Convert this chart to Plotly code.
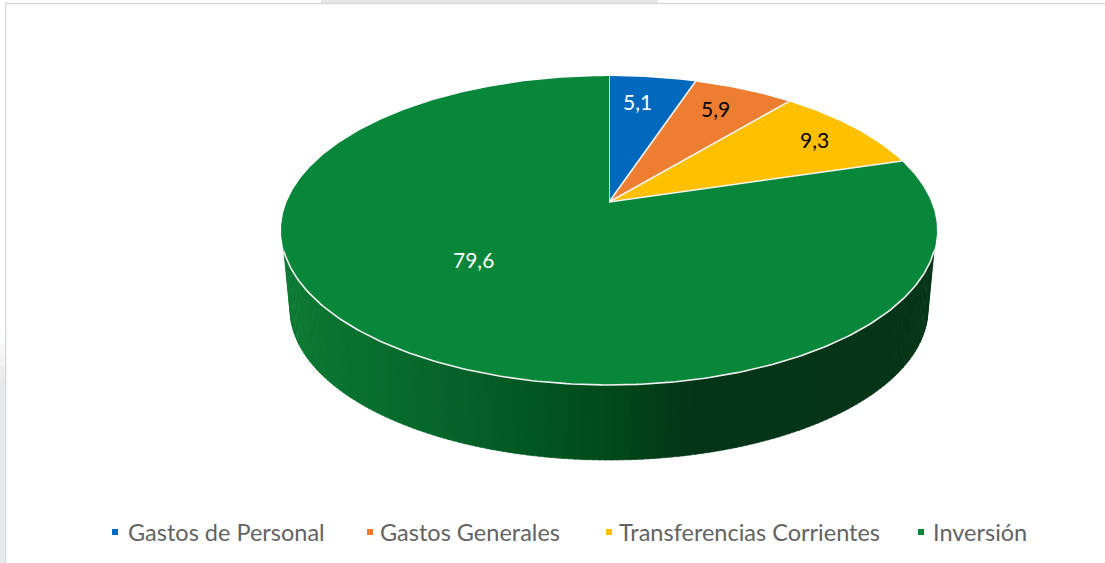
import numpy as np
import plotly.graph_objects as go

categories = ["Gastos de Personal", "Gastos Generales", "Transferencias Corrientes", "Inversión"]
values = [5.1, 5.9, 9.3, 79.6]
value_labels = ["5,1", "5,9", "9,3", "79,6"]
slice_colors = ["#0069BD", "#ED7D31", "#FFC000", "#088639"]
label_colors = ["#ffffff", "#000000", "#000000", "#ffffff"]

# perspective disc geometry (pixel-valued axes)
CX, APEX_Y, A, B, K = 609, 202, 322.4, 149.2, 0.1845
BOT_CY, BOT_RX, BOT_RY = 309, 319, 151


def top(theta):
    """theta measured clockwise from 12 o'clock"""
    u, v = np.sin(theta), np.cos(theta)
    d = 1 + K * v
    return CX + A * u / d, APEX_Y - B * v / d


def bottom(theta):
    return CX + BOT_RX * np.sin(theta), BOT_CY - BOT_RY * np.cos(theta)


def side_color(x):
    xs = [285, 450, 600, 690, 940]
    rs = [12, 6, 0, 5, 5]
    gs = [122, 100, 76, 54, 52]
    bs = [52, 42, 26, 24, 24]
    return "rgb(%d,%d,%d)" % (np.interp(x, xs, rs), np.interp(x, xs, gs), np.interp(x, xs, bs))


fig = go.Figure()

# front wall: strips following the rim, shaded along x
vs_top = np.radians(np.linspace(108, 252, 160))
vs_bot = np.radians(np.linspace(93, 267, 160))
for i in range(len(vs_top) - 1):
    xt, yt = top(np.array([vs_top[i], vs_top[i + 1] + 0.003]))
    xb, yb = bottom(np.array([vs_bot[i], vs_bot[i + 1] + 0.003]))
    xs = np.r_[xt, xb[::-1], xt[0]]
    ys = np.r_[yt, yb[::-1], yt[0]]
    col = side_color(xs.mean())
    fig.add_trace(go.Scatter(x=xs, y=ys, mode="lines", fill="toself", fillcolor=col,
                             line=dict(color=col, width=0.6), hoverinfo="skip", showlegend=False))

# top face
edges = np.cumsum([0] + values) / sum(values) * 2 * np.pi
edges[-1] = 2 * np.pi
for i, name in enumerate(categories):
    th = np.linspace(edges[i], edges[i + 1], max(8, int(values[i] * 6)))
    xr, yr = top(th)
    fig.add_trace(go.Scatter(x=np.r_[CX, xr, CX], y=np.r_[APEX_Y, yr, APEX_Y], mode="lines",
                             fill="toself", fillcolor=slice_colors[i],
                             line=dict(color=slice_colors[i], width=0),
                             name=name, hovertext=f"{name}: {value_labels[i]}", hoverinfo="text",
                             showlegend=False))
    ex, ey = top(np.array([edges[i]]))
    fig.add_trace(go.Scatter(x=[CX, ex[0]], y=[APEX_Y, ey[0]], mode="lines",
                             line=dict(color="#f4f4f4", width=1.6), hoverinfo="skip", showlegend=False))

# light rim along the front of the top face
xr, yr = top(np.radians(np.linspace(108, 252, 200)))
fig.add_trace(go.Scatter(x=xr, y=yr, mode="lines", line=dict(color="#f2f2f2", width=1.6),
                         hoverinfo="skip", showlegend=False))

# value labels
label_radius = [0.72, 0.74, 0.72, 0.40]
label_shift = [(-4, 7), (3, 7), (25, 7), (-54, -7)]
for i in range(4):
    mid = (edges[i] + edges[i + 1]) / 2
    u, v = np.sin(mid) * label_radius[i], np.cos(mid) * label_radius[i]
    d = 1 + K * v
    fig.add_annotation(x=CX + A * u / d, y=APEX_Y - B * v / d, text=value_labels[i], showarrow=False,
                       xshift=label_shift[i][0], yshift=label_shift[i][1],
                       font=dict(family="Lato", size=21, color=label_colors[i]))

# legend row
legend_marker_x = [115, 370, 609, 921]
legend_text_x = [126, 378, 617, 931]
legend_y = 532
fig.add_trace(go.Scatter(x=legend_marker_x, y=[legend_y] * 4, mode="markers",
                         marker=dict(symbol="square", size=6, color=slice_colors),
                         hoverinfo="skip", showlegend=False))
for i, name in enumerate(categories):
    fig.add_annotation(x=legend_text_x[i], y=legend_y, text=name, showarrow=False, xanchor="left",
                       font=dict(family="Lato", size=23.5, color="#636363"))

strip = [dict(type="rect", xref="x", yref="y", x0=0, x1=5, y0=377, y1=563,
              line=dict(width=0), fillcolor="#e8e9ea", layer="below")]
for k, (y0, y1) in enumerate([(333, 344), (344, 355), (355, 366), (366, 377)]):
    strip.append(dict(type="rect", xref="x", yref="y", x0=0, x1=5, y0=y0, y1=y1,
                      line=dict(width=0), fillcolor="#e8e9ea", opacity=0.2 * (k + 1), layer="below"))

frame = [
    dict(type="rect", xref="x", yref="y", x0=321, x1=658, y0=0, y1=3,
         line=dict(width=0), fillcolor="#e6e7e8", layer="below"),
    dict(type="rect", xref="x", yref="y", x0=5.7, x1=1120, y0=3.5, y1=600,
         line=dict(color="#d9d9d9", width=1.4), fillcolor="rgba(0,0,0,0)", layer="below"),
]

fig.update_xaxes(range=[0, 1105], visible=False, fixedrange=True)
fig.update_yaxes(range=[563, 0], visible=False, fixedrange=True)
fig.update_layout(width=1105, height=563, margin=dict(l=0, r=0, t=0, b=0),
                  paper_bgcolor="#ffffff", plot_bgcolor="#ffffff", showlegend=False,
                  shapes=strip + frame)
fig.write_html("out.html", config={"displayModeBar": False},
               post_script="document.body.style.margin='0';document.body.style.overflow='hidden';")
